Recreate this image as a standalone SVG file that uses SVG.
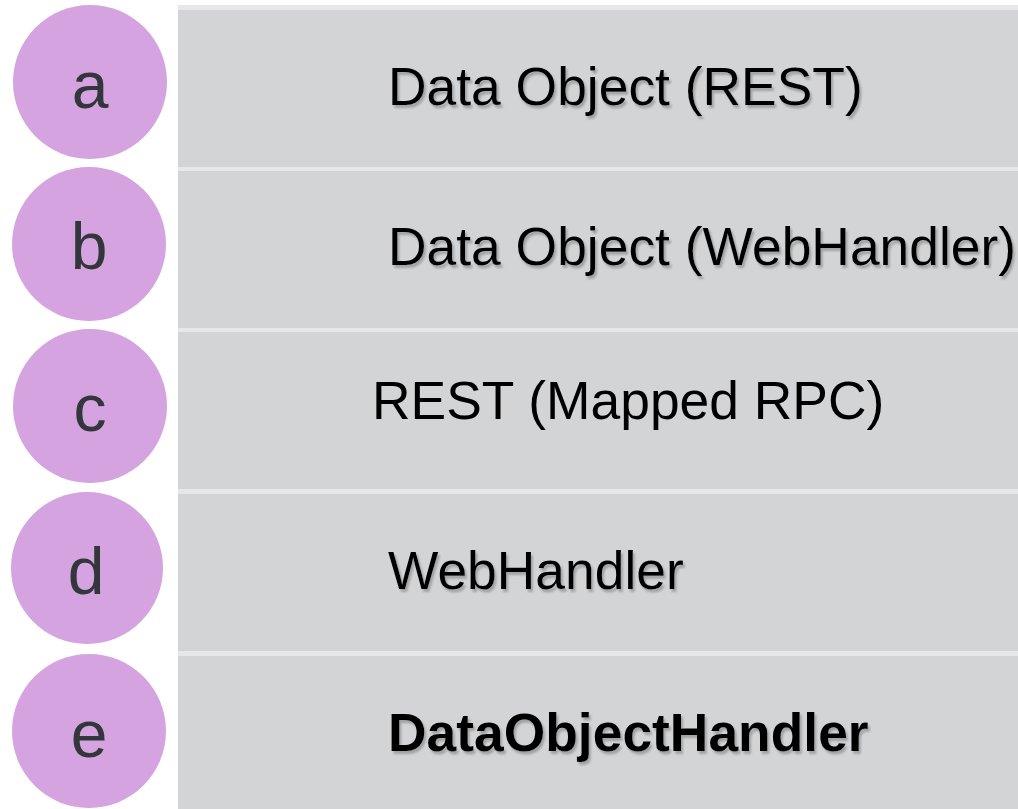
<svg xmlns="http://www.w3.org/2000/svg" width="1018" height="809" viewBox="0 0 1018 809">
<defs>
<filter id="sh" x="-5%" y="-20%" width="110%" height="150%">
<feDropShadow dx="2" dy="3" stdDeviation="1" flood-color="#7a7a7a" flood-opacity="0.55"/>
</filter>
<style>
.band{fill:#e6e7e9}
.row{fill:#d3d4d6}
.dot{fill:#d4a3e0}
.ltr{font-family:"Liberation Sans",Arial,sans-serif;font-size:66px;fill:#33363b;text-anchor:middle}
.lbl{font-family:"Liberation Sans",Arial,sans-serif;font-size:53.4px;fill:#000}
.sh{filter:url(#sh)}
.bold{font-weight:bold}
</style>
</defs>
<rect x="0" y="0" width="1018" height="809" fill="#ffffff"/>
<g id="panel">
<rect class="band" x="178" y="5" width="840" height="804"/>
</g>
<g id="row-a">
<rect class="row" x="178" y="10" width="840" height="157"/>
<circle class="dot" cx="90" cy="82" r="77"/>
<text class="ltr" x="90" y="108">a</text>
<text class="lbl sh" x="388" y="105">Data Object (REST)</text>
</g>
<g id="row-b">
<rect class="row" x="178" y="171" width="840" height="157"/>
<circle class="dot" cx="89" cy="244" r="77"/>
<text class="ltr" x="89" y="269">b</text>
<text class="lbl sh" x="388" y="265">Data Object (WebHandler)</text>
</g>
<g id="row-c">
<rect class="row" x="178" y="332" width="840" height="157"/>
<circle class="dot" cx="90" cy="406" r="77"/>
<text class="ltr" x="90" y="431">c</text>
<text class="lbl" x="372" y="419">REST (Mapped RPC)</text>
</g>
<g id="row-d">
<rect class="row" x="178" y="494" width="840" height="157"/>
<circle class="dot" cx="87" cy="568" r="76"/>
<text class="ltr" x="86" y="594">d</text>
<text class="lbl sh" x="388" y="589">WebHandler</text>
</g>
<g id="row-e">
<rect class="row" x="178" y="656" width="840" height="153"/>
<circle class="dot" cx="89" cy="731" r="77"/>
<text class="ltr" x="89" y="757">e</text>
<text class="lbl sh bold" x="388" y="751">DataObjectHandler</text>
</g>
<g id="connectors"></g>
</svg>
